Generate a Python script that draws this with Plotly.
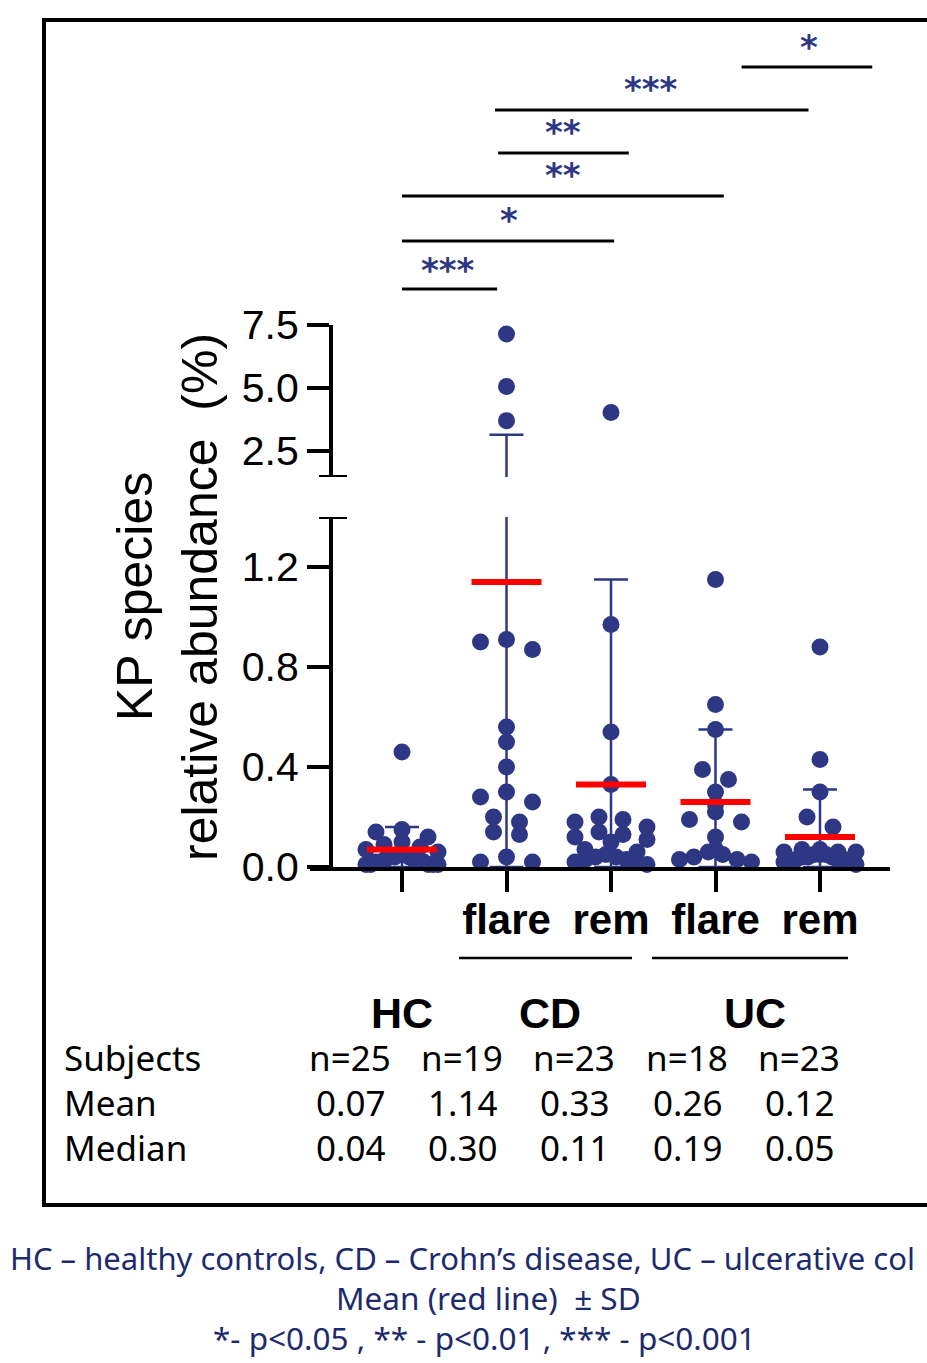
import numpy as np
import plotly.graph_objects as go

# ---------------- data ----------------
groups = ["HC", "CD flare", "CD rem", "UC flare", "UC rem"]
tick_labels = ["", "flare", "rem", "flare", "rem"]

hc = [0.46, 0.15, 0.14, 0.12, 0.10, 0.09, 0.08, 0.07, 0.06, 0.05, 0.05, 0.04, 0.04,
      0.04, 0.03, 0.03, 0.03, 0.02, 0.02, 0.02, 0.01, 0.01, 0.01, 0.01, 0.01]
cd_flare = [7.14, 5.06, 3.70, 0.91, 0.90, 0.87, 0.56, 0.50, 0.40, 0.30, 0.28, 0.26,
            0.20, 0.18, 0.14, 0.13, 0.04, 0.02, 0.02]
cd_rem = [4.02, 0.97, 0.54, 0.33, 0.20, 0.19, 0.18, 0.16, 0.14, 0.13, 0.12, 0.11,
          0.10, 0.07, 0.06, 0.05, 0.04, 0.04, 0.03, 0.03, 0.02, 0.02, 0.01]
uc_flare = [1.15, 0.65, 0.55, 0.39, 0.35, 0.30, 0.25, 0.22, 0.19, 0.18, 0.12, 0.07,
            0.06, 0.05, 0.04, 0.03, 0.03, 0.02]
uc_rem = [0.88, 0.43, 0.30, 0.20, 0.16, 0.07, 0.07, 0.06, 0.06, 0.06, 0.05, 0.05,
          0.05, 0.04, 0.04, 0.04, 0.03, 0.03, 0.03, 0.02, 0.02, 0.02, 0.01]
series = [hc, cd_flare, cd_rem, uc_flare, uc_rem]

means = [0.07, 1.14, 0.33, 0.26, 0.12]
sds = [0.09, 2.00, 0.82, 0.29, 0.19]

disease_labels = ["HC", "CD", "UC"]
row_labels = ["Subjects", "Mean", "Median"]
subjects = ["n=25", "n=19", "n=23", "n=18", "n=23"]
mean_txt = ["0.07", "1.14", "0.33", "0.26", "0.12"]
median_txt = ["0.04", "0.30", "0.11", "0.19", "0.05"]

# significance brackets: (x start, x end) in category units, label
sig_x0 = [0.0, 0.0, 0.0, 0.92, 0.89, 3.25]
sig_x1 = [0.91, 2.03, 3.08, 2.17, 3.89, 4.5]
sig_txt = ["***", "*", "**", "**", "***", "*"]

caption = ["HC – healthy controls, CD – Crohn’s disease, UC – ulcerative col",
           "Mean (red line)  ± SD",
           "*- p<0.05 , ** - p<0.01 , *** - p<0.001"]

# ---------------- layout constants ----------------
W, H = 927, 1363
NAVY = "#2E3784"
CAP_NAVY = "#1D2B6C"
AX_FONT = "Liberation Sans, Arial, sans-serif"
TXT_FONT = "Noto Sans, Open Sans, sans-serif"


def px(p):
    return p / W


def py(p):
    return 1 - p / H


X_DOM = (310, 890)          # pixel extent of x axis line
CAT0, CAT_STEP = 402, 104.5  # pixel of first category, spacing
x_range = [(X_DOM[0] - CAT0) / CAT_STEP, (X_DOM[1] - CAT0) / CAT_STEP]

LOW_PIX = (867, 517)   # bottom/top pixel of lower y segment
LOW_RANGE = [0, (LOW_PIX[0] - LOW_PIX[1]) / 250.0]
UP_PIX = (477, 325)    # bottom/top pixel of upper y segment
UP_RANGE = [2.5 - (UP_PIX[0] - 451) / 25.0, 7.5]
BREAK = LOW_RANGE[1]
Y_AX_X = 331

low_ppu = (LOW_PIX[0] - LOW_PIX[1]) / (LOW_RANGE[1] - LOW_RANGE[0])
up_ppu = (UP_PIX[0] - UP_PIX[1]) / (UP_RANGE[1] - UP_RANGE[0])


def to_pix(v):
    if v <= BREAK:
        return LOW_PIX[0] - (v - LOW_RANGE[0]) * low_ppu
    return UP_PIX[0] - (v - UP_RANGE[0]) * up_ppu


def scatter_offsets(vals, bin_px=12.0, max_sp=26.0, half_w=36.0):
    """GraphPad-like column scatter: points binned by pixel height, spread
    symmetrically within each bin, highest values in the middle."""
    vals = np.asarray(vals, dtype=float)
    pix = np.array([to_pix(v) for v in vals])
    order = list(np.argsort(-pix))  # from bottom (largest pixel) upward
    offs = np.zeros(len(vals))
    k = 0
    while k < len(order):
        start = pix[order[k]]
        members = [order[k]]
        k += 1
        while k < len(order) and start - pix[order[k]] <= bin_px:
            members.append(order[k])
            k += 1
        n = len(members)
        if n == 1:
            continue
        sp = min(max_sp, 2 * half_w / (n - 1))
        slots = [(j - (n - 1) / 2) * sp for j in range(n)]
        slots.sort(key=lambda s: (abs(s), s))
        members.sort(key=lambda m: vals[m], reverse=True)
        for m, s in zip(members, slots):
            offs[m] = s
    return offs / CAT_STEP


fig = go.Figure()

# error bars (mean ± SD), behind dots
cap_half = 17 / CAT_STEP
for i, (m, s) in enumerate(zip(means, sds)):
    lo = max(m - s, 0)
    hi = m + s
    line = dict(color=NAVY, width=2.5)
    top_low = min(hi, BREAK)
    fig.add_trace(go.Scatter(x=[i, i], y=[lo, top_low], mode="lines", line=line,
                             xaxis="x", yaxis="y", hoverinfo="skip", showlegend=False,
                             cliponaxis=False))
    fig.add_trace(go.Scatter(x=[i - cap_half, i + cap_half], y=[lo, lo], mode="lines",
                             line=line, xaxis="x", yaxis="y", hoverinfo="skip",
                             showlegend=False, cliponaxis=False))
    if hi > BREAK:
        fig.add_trace(go.Scatter(x=[i, i, None, i - cap_half, i + cap_half],
                                 y=[UP_RANGE[0], hi, None, hi, hi], mode="lines", line=line,
                                 xaxis="x", yaxis="y2", hoverinfo="skip", showlegend=False,
                                 cliponaxis=False))
    else:
        fig.add_trace(go.Scatter(x=[i - cap_half, i + cap_half], y=[hi, hi], mode="lines",
                                 line=line, xaxis="x", yaxis="y", hoverinfo="skip",
                                 showlegend=False, cliponaxis=False))

# dots
for i, vals in enumerate(series):
    vals = np.array(vals)
    offs = scatter_offsets(vals)
    low = vals <= BREAK
    fig.add_trace(go.Scatter(x=i + offs[low], y=vals[low], mode="markers",
                             marker=dict(color=NAVY, size=17, line=dict(width=0)),
                             xaxis="x", yaxis="y", name=groups[i], showlegend=False,
                             cliponaxis=False))
    if (~low).any():
        fig.add_trace(go.Scatter(x=i + offs[~low], y=vals[~low], mode="markers",
                                 marker=dict(color=NAVY, size=17, line=dict(width=0)),
                                 xaxis="x", yaxis="y2", name=groups[i], showlegend=False,
                                 cliponaxis=False))

# red mean lines
half = 35 / CAT_STEP
for i, m in enumerate(means):
    fig.add_trace(go.Scatter(x=[i - half, i + half], y=[m, m], mode="lines",
                             line=dict(color="#FF0000", width=6), xaxis="x", yaxis="y",
                             hoverinfo="skip", showlegend=False, cliponaxis=False))

shapes = []
annotations = []

# outer frame
shapes.append(dict(type="rect", xref="paper", yref="paper", x0=px(44), x1=px(W + 20),
                   y0=py(1205), y1=py(20), line=dict(color="black", width=4)))

# axis break caps
for yy, yr in [(LOW_RANGE[1], "y"), (UP_RANGE[0], "y2")]:
    shapes.append(dict(type="line", xref="paper", yref=yr, x0=px(319), x1=px(347),
                       y0=yy, y1=yy, line=dict(color="black", width=4)))

# significance brackets
sig_pix = [289, 241, 196, 153, 110, 67]
star_pix = [(448, 264), (509, 214), (563, 169), (563, 126), (651, 83), (809, 41)]
for j in range(len(sig_txt)):
    shapes.append(dict(type="line", xref="x", yref="paper", x0=sig_x0[j], x1=sig_x1[j],
                       y0=py(sig_pix[j]), y1=py(sig_pix[j]),
                       line=dict(color="black", width=3)))
    annotations.append(dict(text="<b>" + sig_txt[j] + "</b>", xref="paper", yref="paper",
                            x=px(star_pix[j][0]), y=py(star_pix[j][1] + 6),
                            xanchor="center", yanchor="middle", showarrow=False,
                            font=dict(family="DejaVu Sans", size=34, color=NAVY)))

# group underline bars
for x0, x1 in [(459, 632), (652, 848)]:
    shapes.append(dict(type="line", xref="paper", yref="paper", x0=px(x0), x1=px(x1),
                       y0=py(958), y1=py(958), line=dict(color="black", width=2.5)))

# disease labels
for lab, xx in zip(disease_labels, [402, 550, 755]):
    annotations.append(dict(text="<b>" + lab + "</b>", xref="paper", yref="paper",
                            x=px(xx), y=py(1013), xanchor="center", yanchor="middle",
                            showarrow=False, font=dict(family=AX_FONT, size=43, color="black")))

# y axis titles
annotations.append(dict(text="KP species", xref="paper", yref="paper", x=px(135), y=py(597),
                        textangle=-90, xanchor="center", yanchor="middle", showarrow=False,
                        font=dict(family=AX_FONT, size=50, color="black")))
annotations.append(dict(text="relative abundance  (%)", xref="paper", yref="paper", x=px(200),
                        y=py(597), textangle=-90, xanchor="center", yanchor="middle",
                        showarrow=False, font=dict(family=AX_FONT, size=50, color="black")))

# table
col_pix = [350, 462, 574, 687, 799]
row_pix = [1057, 1102, 1147]
for r, (lab, vals) in enumerate(zip(row_labels, [subjects, mean_txt, median_txt])):
    annotations.append(dict(text=lab, xref="paper", yref="paper", x=px(62), y=py(row_pix[r]),
                            xanchor="left", yanchor="middle", showarrow=False,
                            font=dict(family=TXT_FONT, size=35, color="black")))
    for c, v in enumerate(vals):
        annotations.append(dict(text=v, xref="paper", yref="paper", x=px(col_pix[c]),
                                y=py(row_pix[r]), xanchor="center", yanchor="middle",
                                showarrow=False,
                                font=dict(family=TXT_FONT, size=35, color="black")))

# caption
cap_pos = [(8, "left", 31), (488, "center", 31.5), (485, "center", 31.5)]
for k, (line_txt, yy) in enumerate(zip(caption, [1258, 1297, 1337])):
    annotations.append(dict(text=line_txt, xref="paper", yref="paper", x=px(cap_pos[k][0]),
                            y=py(yy), xanchor=cap_pos[k][1], yanchor="middle",
                            showarrow=False,
                            font=dict(family=TXT_FONT, size=cap_pos[k][2], color=CAP_NAVY)))

axis_common = dict(showgrid=False, zeroline=False, showline=True, linecolor="black",
                   linewidth=4, ticks="outside", tickcolor="black", tickwidth=4,
                   automargin=False)

fig.update_layout(
    width=W, height=H,
    margin=dict(l=0, r=0, t=0, b=0, pad=0, autoexpand=False),
    paper_bgcolor="white", plot_bgcolor="rgba(0,0,0,0)",
    showlegend=False,
    xaxis=dict(domain=[px(X_DOM[0]), px(X_DOM[1])], range=x_range, anchor="y",
               tickvals=list(range(len(groups))),
               ticktext=["<b>" + t + "</b>" if t else "" for t in tick_labels],
               ticklen=21, ticklabelstandoff=-8,
               tickfont=dict(family=AX_FONT, size=42, color="black"),
               **axis_common),
    yaxis=dict(domain=[py(LOW_PIX[0]), py(LOW_PIX[1])], range=LOW_RANGE, anchor="free",
               position=px(Y_AX_X), tickvals=[0, 0.4, 0.8, 1.2],
               ticktext=["0.0", "0.4", "0.8", "1.2"], ticklen=22,
               tickfont=dict(family=AX_FONT, size=41, color="black"), **axis_common),
    yaxis2=dict(domain=[py(UP_PIX[0]), py(UP_PIX[1])], range=UP_RANGE, anchor="free",
                position=px(Y_AX_X), tickvals=[2.5, 5.0, 7.5],
                ticktext=["2.5", "5.0", "7.5"], ticklen=22,
                tickfont=dict(family=AX_FONT, size=41, color="black"), **axis_common),
    shapes=shapes,
    annotations=annotations,
)

fig.write_html("out.html", config={"displayModeBar": False},
               post_script="document.body.style.margin='0';document.body.style.overflow='hidden';")
